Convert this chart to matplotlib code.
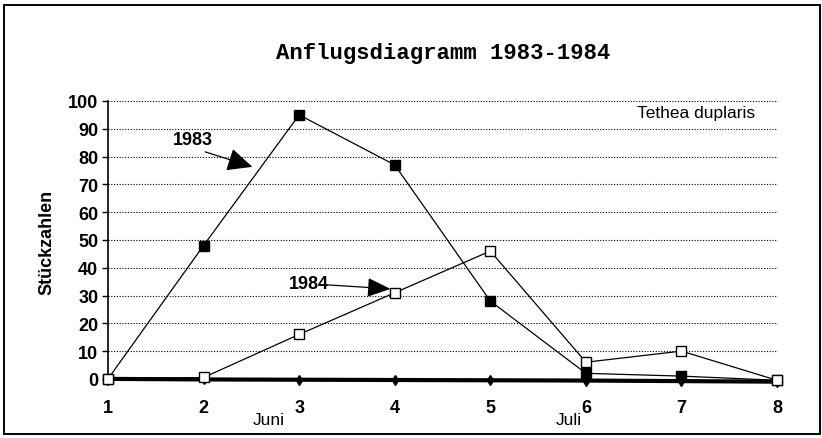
import matplotlib
matplotlib.use("Agg")
import matplotlib.pyplot as plt
from matplotlib.patches import Rectangle

weeks = [1, 2, 3, 4, 5, 6, 7, 8]
y1983 = [0, 48, 95, 77, 28, 2, 1, -0.5]
y1984 = [0, 0.5, 16, 31, 46, 6, 10, -0.5]
baseline = [0, -0.2, -0.3, -0.4, -0.5, -0.6, -0.8, -1.0]
yticks = [0, 10, 20, 30, 40, 50, 60, 70, 80, 90, 100]

narrow = ['Liberation Sans Narrow', 'Liberation Sans', 'DejaVu Sans']

fig = plt.figure(figsize=(8.22, 4.39), dpi=100)
fig.patches.append(Rectangle((4/822, 1-435/439), 816/822, 429/439, transform=fig.transFigure,
                             fill=False, edgecolor='black', linewidth=1.4))

ax = fig.add_axes([108/822, 1-386/439, 670/822, 284/439])
ax.set_xlim(1, 8.01)
ax.set_ylim(-2.2, 100)

for v in yticks[1:]:
    ax.axhline(v, color='black', linestyle=(0, (1, 1.5)), linewidth=0.8, zorder=1)

ax.plot(weeks, baseline, color='black', linewidth=3, marker='d', markersize=5, zorder=2,
        clip_on=False)
ax.plot(weeks, y1983, color='black', linewidth=0.9, marker='s', markersize=7,
        markerfacecolor='black', markeredgecolor='black', zorder=3, clip_on=False)
ax.plot(weeks, y1984, color='black', linewidth=0.9, marker='s', markersize=7.5,
        markerfacecolor='white', markeredgecolor='black', zorder=4, clip_on=False)

for s in ['top', 'right', 'bottom']:
    ax.spines[s].set_visible(False)
ax.spines['left'].set_linewidth(1.2)

ax.set_yticks(yticks)
ax.set_yticklabels([str(v) for v in yticks], fontfamily=narrow, fontweight='bold', fontsize=13)
ax.tick_params(axis='y', direction='out', length=4, width=1, pad=3)
ax.set_xticks(weeks)
ax.set_xticklabels([str(w) for w in weeks], fontfamily=narrow, fontweight='bold', fontsize=13)
ax.tick_params(axis='x', length=0, pad=10)

fig.text(47/822, 1-242/439, 'Stückzahlen', rotation=90, ha='center', va='center',
         fontfamily='Liberation Sans', fontweight='bold', fontsize=13)
fig.text(443/822, 1-53/439, 'Anflugsdiagramm 1983-1984', ha='center', va='center',
         fontfamily='Liberation Mono', fontweight='bold', fontsize=16)
fig.text(696/822, 1-114/439, 'Tethea duplaris', ha='center', va='center',
         fontfamily=narrow, fontsize=12.5)
fig.text(269/822, 1-421/439, 'Juni', ha='center', va='center', fontfamily=narrow, fontsize=12.5)
fig.text(569/822, 1-421/439, 'Juli', ha='center', va='center', fontfamily=narrow, fontsize=12.5)

ax.text(1.89, 86, '1983', ha='center', va='center', fontfamily=narrow, fontweight='bold',
        fontsize=13)
ax.annotate('', xy=(2.51, 76.3), xytext=(2.017, 81.7),
            arrowprops=dict(arrowstyle='-|>,head_length=1.3,head_width=0.6', color='black',
                            lw=0.9, shrinkA=0, shrinkB=0, mutation_scale=12))
ax.text(3.1, 34.3, '1984', ha='center', va='center', fontfamily=narrow, fontweight='bold',
        fontsize=13)
ax.annotate('', xy=(3.955, 32.4), xytext=(3.306, 33.8),
            arrowprops=dict(arrowstyle='-|>,head_length=1.2,head_width=0.5', color='black',
                            lw=0.9, shrinkA=0, shrinkB=0, mutation_scale=12))

fig.savefig('out.png', dpi=100)
